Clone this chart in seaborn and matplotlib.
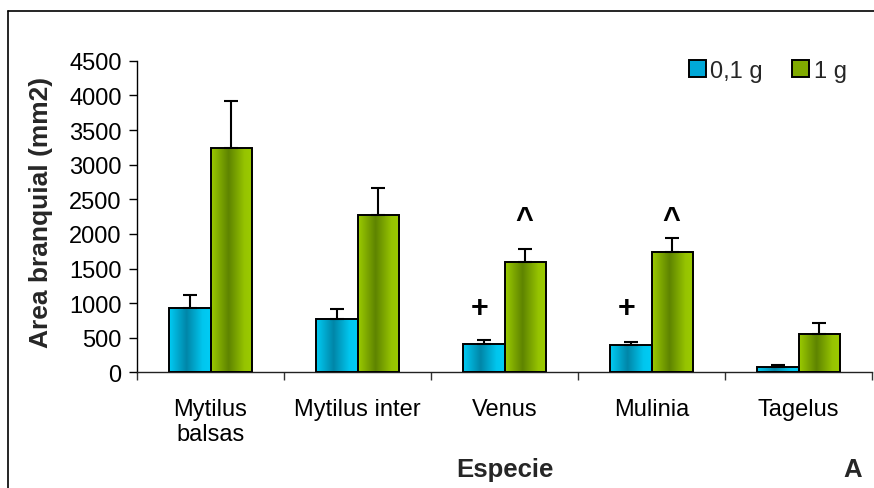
import numpy as np
import pandas as pd
import matplotlib
matplotlib.use("Agg")
import matplotlib.pyplot as plt
from matplotlib.colors import LinearSegmentedColormap, to_rgba
from matplotlib.patches import Patch
from matplotlib.lines import Line2D
import seaborn as sns

# Gill area per species and body-size group
especies = ["Mytilus\nbalsas", "Mytilus inter", "Venus", "Mulinia", "Tagelus"]
grupos = ["0,1 g", "1 g"]
area_01g = [930, 775, 410, 390, 70]
area_1g = [3235, 2270, 1595, 1745, 555]
ee_01g = [190, 145, 50, 45, 35]
ee_1g = [680, 400, 190, 195, 160]
marca_01g = ["", "", "+", "+", ""]
marca_1g = ["", "", "^", "^", ""]
yticks = [0, 500, 1000, 1500, 2000, 2500, 3000, 3500, 4000, 4500]

sns.set_theme(style="white")
plt.rcParams["font.family"] = ["Liberation Sans", "DejaVu Sans"]

df = pd.DataFrame({
    "Especie": especies * 2,
    "Peso": [grupos[0]] * len(especies) + [grupos[1]] * len(especies),
    "Area": area_01g + area_1g,
})

W, H = 874, 489
fig = plt.figure(figsize=(W / 100, H / 100), dpi=100)
x0, x1 = 137, 872
y0, y1 = 373.3, 61.9
ax = fig.add_axes([x0 / W, 1 - y0 / H, (x1 - x0) / W, (y0 - y1) / H])

colores = {grupos[0]: "#00A8D8", grupos[1]: "#80AA00"}
gradientes = {
    grupos[0]: LinearSegmentedColormap.from_list(
        "azul", [(0, "#00CCF5"), (0.42, "#0086A8"), (0.8, "#00C6EE"), (1, "#00CCF5")]),
    grupos[1]: LinearSegmentedColormap.from_list(
        "verde", [(0, "#9CCB00"), (0.42, "#5E8400"), (0.8, "#96C400"), (1, "#9CCB00")]),
}

sns.barplot(data=df, x="Especie", y="Area", hue="Peso", order=especies,
            hue_order=grupos, palette=colores, width=0.57, errorbar=None,
            legend=False, edgecolor="black", linewidth=1.4, ax=ax, zorder=3)

# shaded fill for every bar, grouped by colour
barras = {g: [] for g in grupos}
for p in list(ax.patches):
    fc = p.get_facecolor()
    g = min(grupos, key=lambda k: sum(abs(a - b) for a, b in zip(fc, to_rgba(colores[k]))))
    barras[g].append(p)
    x, w, h = p.get_x(), p.get_width(), p.get_height()
    ax.imshow(np.linspace(0, 1, 256)[None, :], cmap=gradientes[g],
              extent=[x, x + w, 0, h], aspect="auto", interpolation="bilinear",
              zorder=2.5)
    p.set_facecolor("none")
    p.set_zorder(3)

for g, medias, ee in ((grupos[0], area_01g, ee_01g), (grupos[1], area_1g, ee_1g)):
    ps = sorted(barras[g], key=lambda r: r.get_x())
    cx = [r.get_x() + r.get_width() / 2 for r in ps]
    ax.errorbar(cx, medias, yerr=[np.zeros(len(ee)), ee], fmt="none",
                ecolor="black", elinewidth=1.5, capsize=4.8, capthick=1.5,
                zorder=4)
    marcas = marca_01g if g == grupos[0] else marca_1g
    for xc, m in zip(cx, marcas):
        if m == "+":
            ax.text(xc - 0.025, 930, m, ha="center", va="center",
                    fontsize=22, fontweight="bold", color="black")
        elif m == "^":
            ax.text(xc - 0.01, 2195, m, ha="center", va="center",
                    fontsize=22, fontweight="bold", color="black")

ax.set_xlim(-0.5, len(especies) - 0.5)
ax.set_ylim(0, 4500)
ax.set_yticks(yticks)
ax.set_xticks(range(len(especies)))
ax.set_xticklabels(especies)
ax.set_xticks(np.arange(-0.5, len(especies), 1), minor=True)
ax.set_xlabel("")
ax.set_ylabel("")

ax.tick_params(axis="y", left=True, length=6, width=1, color="black",
               labelsize=17, pad=5, direction="out", labelcolor="black")
ax.tick_params(axis="x", which="major", bottom=True, length=0, pad=18.5,
               labelsize=17, labelcolor="black")
ax.tick_params(axis="x", which="minor", bottom=True, length=6, width=1,
               color="#333333", direction="out")
for lado in ("top", "right"):
    ax.spines[lado].set_visible(False)
ax.spines["left"].set_color("black")
ax.spines["left"].set_linewidth(1)
ax.spines["bottom"].set_color("#222222")
ax.spines["bottom"].set_linewidth(1)

manejadores = [Patch(facecolor=colores[g], edgecolor="black", linewidth=1.4, label=g)
               for g in grupos]
ax.legend(handles=manejadores, loc="upper left", ncol=2, frameon=False,
          bbox_to_anchor=(689 / W, 1 - 61 / H), bbox_transform=fig.transFigure,
          fontsize=17, handlelength=0.7, handleheight=0.7,
          handletextpad=0.2, columnspacing=1.25, borderpad=0, borderaxespad=0)

fig.text(41 / W, 1 - 212.5 / H, "Area branquial (mm2)", rotation=90,
         fontsize=19, fontweight="bold", ha="center", va="center")
fig.text(505 / W, 1 - 477 / H, "Especie", fontsize=18.5, fontweight="bold",
         ha="center", va="baseline")
fig.text(853 / W, 1 - 477 / H, "A", fontsize=18.5, fontweight="bold",
         ha="center", va="baseline")

# frame lines around the chart area
fig.add_artist(Line2D([7.5 / W, 7.5 / W], [0, 1 - 11.7 / H],
                      transform=fig.transFigure, color="black", lw=1.2))
fig.add_artist(Line2D([7.5 / W, 1], [1 - 11.7 / H, 1 - 11.7 / H],
                      transform=fig.transFigure, color="black", lw=1.2))

fig.savefig("out.png", dpi=100)
